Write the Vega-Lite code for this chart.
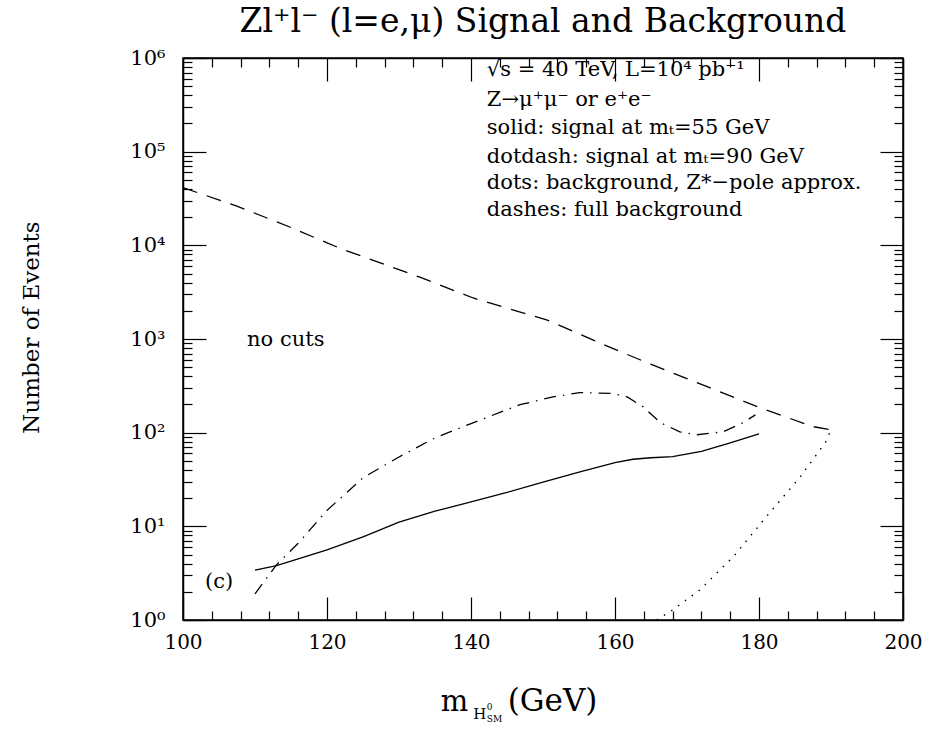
{
  "$schema": "https://vega.github.io/schema/vega-lite/v6.json",
  "width": 720,
  "height": 562,
  "autosize": {"type": "none"},
  "padding": {"left": 183, "top": 58, "right": 23, "bottom": 110},
  "background": "white",
  "title": {
    "text": "Zl⁺l⁻  (l=e,μ) Signal and Background",
    "font": "DejaVu Serif",
    "fontSize": 33,
    "fontWeight": "normal",
    "color": "black",
    "anchor": "middle",
    "offset": 8
  },
  "config": {
    "font": "DejaVu Serif",
    "view": {"stroke": "black", "strokeWidth": 1.5},
    "axis": {
      "labelFont": "DejaVu Serif",
      "labelColor": "black",
      "labelFontSize": 20,
      "titleFont": "DejaVu Serif",
      "titleColor": "black",
      "titleFontWeight": "normal",
      "tickColor": "black",
      "tickWidth": 1.2,
      "domainColor": "black",
      "domainWidth": 1.5,
      "grid": false,
      "labelFlush": false,
      "labelOverlap": false
    }
  },
  "datasets": {
    "bg": [
      {"mass": 100, "events": 41300},
      {"mass": 107.5, "events": 26200},
      {"mass": 114.9, "events": 15600},
      {"mass": 121.8, "events": 9300},
      {"mass": 132.9, "events": 4570},
      {"mass": 140.3, "events": 2740},
      {"mass": 150.6, "events": 1590},
      {"mass": 157.9, "events": 905},
      {"mass": 165.3, "events": 525},
      {"mass": 172.8, "events": 310},
      {"mass": 180.1, "events": 185},
      {"mass": 187.5, "events": 116},
      {"mass": 190.1, "events": 107}
    ],
    "sig55": [
      {"mass": 110, "events": 3.4},
      {"mass": 113, "events": 3.8},
      {"mass": 116, "events": 4.5},
      {"mass": 120, "events": 5.6},
      {"mass": 125, "events": 7.7},
      {"mass": 130, "events": 11.1},
      {"mass": 135, "events": 14.5},
      {"mass": 140, "events": 18.2},
      {"mass": 145, "events": 23},
      {"mass": 150, "events": 29.7},
      {"mass": 155, "events": 38},
      {"mass": 160, "events": 48},
      {"mass": 162.5, "events": 52},
      {"mass": 165, "events": 54},
      {"mass": 168, "events": 55.6},
      {"mass": 172, "events": 63},
      {"mass": 176, "events": 78},
      {"mass": 180, "events": 97}
    ],
    "sig90": [
      {"mass": 110, "events": 1.9},
      {"mass": 113, "events": 3.9},
      {"mass": 116, "events": 6.6},
      {"mass": 120, "events": 14.8},
      {"mass": 125, "events": 33},
      {"mass": 130, "events": 55},
      {"mass": 135, "events": 88},
      {"mass": 140, "events": 125},
      {"mass": 146.8, "events": 199},
      {"mass": 151.4, "events": 241},
      {"mass": 155.1, "events": 268},
      {"mass": 159.7, "events": 262},
      {"mass": 161.7, "events": 241},
      {"mass": 163.9, "events": 189},
      {"mass": 166.3, "events": 128},
      {"mass": 169.0, "events": 102},
      {"mass": 171.4, "events": 95},
      {"mass": 175, "events": 102},
      {"mass": 177.8, "events": 128},
      {"mass": 179.5, "events": 155}
    ],
    "zpole": [
      {"mass": 165.8, "events": 1.0},
      {"mass": 168, "events": 1.28},
      {"mass": 171.8, "events": 2.1},
      {"mass": 176.4, "events": 4.7},
      {"mass": 181, "events": 12.6},
      {"mass": 185.7, "events": 33.6},
      {"mass": 189.2, "events": 78},
      {"mass": 190, "events": 107}
    ],
    "notes": [
      {"mass": 142.2, "events": 745000, "label": "√s  =  40 TeV, L=10⁴ pb⁻¹"},
      {"mass": 142.2, "events": 356000, "label": "Z→μ⁺μ⁻  or  e⁺e⁻"},
      {"mass": 142.2, "events": 179000, "label": "solid: signal at mₜ=55 GeV"},
      {"mass": 142.2, "events": 87700, "label": "dotdash: signal at mₜ=90 GeV"},
      {"mass": 142.2, "events": 46300, "label": "dots: background, Z*−pole approx."},
      {"mass": 142.2, "events": 23900, "label": "dashes: full background"}
    ],
    "marks_in_plot": [
      {"mass": 108.9, "events": 980, "label": "no cuts"},
      {"mass": 103.05, "events": 2.54, "label": "(c)"}
    ],
    "xtitle_m": [
      {"mass": 135.8, "events": 0.107, "label": "m"}
    ],
    "xtitle_unit": [
      {"mass": 145.1, "events": 0.107, "label": "(GeV)"}
    ],
    "xtitle_h": [
      {"mass": 140.3, "events": 0.0878, "label": "H"}
    ],
    "xtitle_sup": [
      {"mass": 142.2, "events": 0.1096, "label": "0"}
    ],
    "xtitle_sm": [
      {"mass": 142.2, "events": 0.0815, "label": "SM"}
    ]
  },
  "resolve": {"axis": {"x": "independent", "y": "independent"}},
  "layer": [
    {
      "data": {"name": "bg"},
      "mark": {"type": "line", "color": "black", "strokeWidth": 1.3, "strokeDash": [15, 10], "clip": true},
      "encoding": {
        "x": {
          "field": "mass", "type": "quantitative",
          "scale": {"domain": [100, 200], "nice": false, "zero": false},
          "axis": {"orient": "bottom", "values": [100, 120, 140, 160, 180, 200], "tickSize": -23, "labelPadding": 35, "title": null, "format": "d"}
        },
        "y": {
          "field": "events", "type": "quantitative",
          "scale": {"type": "log", "domain": [1, 1000000], "nice": false},
          "axis": {
            "orient": "left",
            "values": [1, 10, 100, 1000, 10000, 100000, 1000000],
            "tickSize": -23,
            "labelPadding": 41,
            "labelFontSize": 21,
            "labelExpr": "'10' + ['⁰','¹','²','³','⁴','⁵','⁶'][round(log(datum.value)/LN10)]",
            "title": "Number of Events",
            "titleFontSize": 23,
            "titleAngle": -90,
            "titleX": -152,
            "titleY": 269,
            "titleAlign": "center",
            "titleBaseline": "middle"
          }
        }
      }
    },
    {
      "data": {"name": "sig55"},
      "mark": {"type": "line", "color": "black", "strokeWidth": 1.3, "clip": true},
      "encoding": {
        "x": {
          "field": "mass", "type": "quantitative",
          "axis": {"orient": "bottom", "values": [104, 108, 112, 116, 124, 128, 132, 136, 144, 148, 152, 156, 164, 168, 172, 176, 184, 188, 192, 196], "tickSize": -9, "labels": false, "domain": false, "title": null}
        },
        "y": {
          "field": "events", "type": "quantitative",
          "axis": {"orient": "left", "values": [2, 3, 4, 5, 6, 7, 8, 9, 20, 30, 40, 50, 60, 70, 80, 90, 200, 300, 400, 500, 600, 700, 800, 900, 2000, 3000, 4000, 5000, 6000, 7000, 8000, 9000, 20000, 30000, 40000, 50000, 60000, 70000, 80000, 90000, 200000, 300000, 400000, 500000, 600000, 700000, 800000, 900000], "tickSize": -9, "labels": false, "domain": false, "title": null}
        }
      }
    },
    {
      "data": {"name": "sig90"},
      "mark": {"type": "line", "color": "black", "strokeWidth": 1.3, "strokeDash": [12, 7, 1.5, 7], "clip": true},
      "encoding": {
        "x": {
          "field": "mass", "type": "quantitative",
          "axis": {"orient": "top", "values": [100, 120, 140, 160, 180, 200], "tickSize": -23, "labels": false, "title": null}
        },
        "y": {
          "field": "events", "type": "quantitative",
          "axis": {"orient": "right", "values": [1, 10, 100, 1000, 10000, 100000, 1000000], "tickSize": -23, "labels": false, "title": null}
        }
      }
    },
    {
      "data": {"name": "zpole"},
      "mark": {"type": "line", "color": "black", "strokeWidth": 1.4, "strokeDash": [1.5, 7], "clip": true},
      "encoding": {
        "x": {
          "field": "mass", "type": "quantitative",
          "axis": {"orient": "top", "values": [104, 108, 112, 116, 124, 128, 132, 136, 144, 148, 152, 156, 164, 168, 172, 176, 184, 188, 192, 196], "tickSize": -9, "labels": false, "domain": false, "title": null}
        },
        "y": {
          "field": "events", "type": "quantitative",
          "axis": {"orient": "right", "values": [2, 3, 4, 5, 6, 7, 8, 9, 20, 30, 40, 50, 60, 70, 80, 90, 200, 300, 400, 500, 600, 700, 800, 900, 2000, 3000, 4000, 5000, 6000, 7000, 8000, 9000, 20000, 30000, 40000, 50000, 60000, 70000, 80000, 90000, 200000, 300000, 400000, 500000, 600000, 700000, 800000, 900000], "tickSize": -9, "labels": false, "domain": false, "title": null}
        }
      }
    },
    {
      "data": {"name": "notes"},
      "mark": {"type": "text", "align": "left", "baseline": "middle", "fontSize": 21, "font": "DejaVu Serif", "color": "black"},
      "encoding": {
        "x": {"field": "mass", "type": "quantitative", "axis": null},
        "y": {"field": "events", "type": "quantitative", "axis": null},
        "text": {"field": "label"}
      }
    },
    {
      "data": {"name": "marks_in_plot"},
      "mark": {"type": "text", "align": "left", "baseline": "middle", "fontSize": 21, "font": "DejaVu Serif", "color": "black"},
      "encoding": {
        "x": {"field": "mass", "type": "quantitative", "axis": null},
        "y": {"field": "events", "type": "quantitative", "axis": null},
        "text": {"field": "label"}
      }
    },
    {
      "data": {"name": "xtitle_m"},
      "mark": {"type": "text", "align": "left", "baseline": "alphabetic", "fontSize": 29, "font": "DejaVu Serif", "color": "black"},
      "encoding": {
        "x": {"field": "mass", "type": "quantitative", "axis": null},
        "y": {"field": "events", "type": "quantitative", "axis": null},
        "text": {"field": "label"}
      }
    },
    {
      "data": {"name": "xtitle_unit"},
      "mark": {"type": "text", "align": "left", "baseline": "alphabetic", "fontSize": 31, "font": "DejaVu Serif", "color": "black"},
      "encoding": {
        "x": {"field": "mass", "type": "quantitative", "axis": null},
        "y": {"field": "events", "type": "quantitative", "axis": null},
        "text": {"field": "label"}
      }
    },
    {
      "data": {"name": "xtitle_h"},
      "mark": {"type": "text", "align": "left", "baseline": "alphabetic", "fontSize": 15, "font": "DejaVu Serif", "color": "black"},
      "encoding": {
        "x": {"field": "mass", "type": "quantitative", "axis": null},
        "y": {"field": "events", "type": "quantitative", "axis": null},
        "text": {"field": "label"}
      }
    },
    {
      "data": {"name": "xtitle_sup"},
      "mark": {"type": "text", "align": "left", "baseline": "alphabetic", "fontSize": 9, "font": "DejaVu Serif", "color": "black"},
      "encoding": {
        "x": {"field": "mass", "type": "quantitative", "axis": null},
        "y": {"field": "events", "type": "quantitative", "axis": null},
        "text": {"field": "label"}
      }
    },
    {
      "data": {"name": "xtitle_sm"},
      "mark": {"type": "text", "align": "left", "baseline": "alphabetic", "fontSize": 9, "font": "DejaVu Serif", "color": "black"},
      "encoding": {
        "x": {"field": "mass", "type": "quantitative", "axis": null},
        "y": {"field": "events", "type": "quantitative", "axis": null},
        "text": {"field": "label"}
      }
    }
  ]
}
